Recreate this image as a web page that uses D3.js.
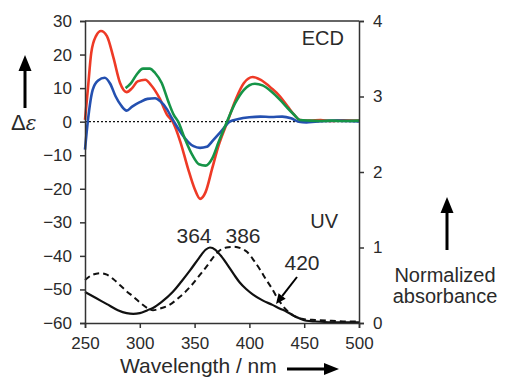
<!DOCTYPE html>
<html><head><meta charset="utf-8">
<script src="https://cdn.jsdelivr.net/npm/d3@7"></script>
<style>
html,body{margin:0;padding:0;background:#fff;}
svg{display:block;font-family:"Liberation Sans",Arial,Helvetica,sans-serif;}
</style></head>
<body>
<svg id="chart" width="506" height="378"></svg>
<script>
// ---- data ----
const xTicks = [250, 300, 350, 400, 450, 500];
const leftTicks = [30, 20, 10, 0, -10, -20, -30, -40, -50, -60];
const rightTicks = [0, 1, 2, 3, 4];

const redNm  = [250,252.7,255.7,260,264.6,270,276,282,288,293,298,305,310,318,325,330,337,344,350,355,360,366,372,380,388,395,403,410,420,428,435,441,446,455,465,475,485,500];
const redCD  = [0.5,10,20.5,25.5,27,25.5,19,11.5,8.8,10,12,12.5,11,7,2,0,-6,-14,-20,-23,-21,-14,-7,0,7,11.5,13.3,12.5,10,7.5,4.5,2,0.5,0.3,0.5,0.2,0.4,0.3];

const greenNm = [287,292,297,303,309,314,320,326,331,335,341,348,354,360,366,372,379.5,387,395,405,412,420,428,435,441,446,455,465,475,485,500];
const greenCD = [10,11.5,14,15.8,15.8,14.5,11.5,6,2,0,-5,-10,-12.7,-13.1,-11,-6,0,5.5,9.5,11.3,10.8,9,6.5,4,2,0.5,0.3,0.2,0.3,0.2,0.3];

const blueNm = [250,252.7,257,262,268,273,278,283,288,293,300,307,314,319,325,329,333,338,344,349,355,361,367,374,382,390,400,410,420,430,438,445,452,460,470,480,490,500];
const blueCD = [-8.3,0.5,9.5,12.3,13.1,11.3,7.5,4.8,3.3,4.5,5.8,6.8,7,6,3.6,1.2,-1,-3.5,-6,-7.3,-7.8,-7.5,-5.5,-3,0,0.8,1.3,1.5,1.4,1.5,1,0,-0.2,0,0.2,0.3,0.2,0.1];

const uvSolidNm = [250,260,270,280,288,294,300,307,312,320,330,338,346,354,360,364,369,374,380,386,391,397,403,412,421,428,434,440,446,452,460,475,490,500];
const uvSolid   = [0.41,0.33,0.25,0.17,0.13,0.12,0.13,0.17,0.2,0.28,0.41,0.55,0.70,0.86,0.97,1.0,0.97,0.89,0.77,0.64,0.54,0.45,0.38,0.30,0.24,0.19,0.15,0.1,0.06,0.03,0.02,0.01,0.01,0.01];

const uvDashNm = [250,257,264,270,276,282,288,294,301,308,312,318,327,336,346,355,361,366,372,379,386,392,398,404,410,415,420,426,432,438,444,450,460,475,490,500];
const uvDash   = [0.57,0.64,0.66,0.64,0.58,0.5,0.42,0.35,0.26,0.19,0.17,0.19,0.24,0.34,0.48,0.64,0.75,0.85,0.95,1.0,1.01,0.99,0.94,0.83,0.70,0.58,0.47,0.32,0.2,0.12,0.07,0.05,0.04,0.03,0.02,0.02];

const peakLabels = ["364", "386", "420"];

// ---- layout ----
const svg = d3.select("#chart");
const L = 85, R = 359, T = 21, B = 323;
const x = d3.scaleLinear().domain([250, 500]).range([L, R]);
const yL = d3.scaleLinear().domain([-60, 30]).range([B, T]);
const yR = d3.scaleLinear().domain([0, 4]).range([B, T]);
const axisCol = "#333";
const textCol = "#2a2a2a";

// zero line
svg.append("line").attr("x1", L).attr("x2", R).attr("y1", yL(0)).attr("y2", yL(0))
  .attr("stroke", "#111").attr("stroke-width", 1.3).attr("stroke-dasharray", "2,2");

const lineL = (nm, v) => d3.line().x((d, i) => x(nm[i])).y(d => yL(d)).curve(d3.curveMonotoneX)(v);
const lineR = (nm, v) => d3.line().x((d, i) => x(nm[i])).y(d => yR(d)).curve(d3.curveMonotoneX)(v);

// ECD curves
svg.append("path").attr("d", lineL(redNm, redCD)).attr("fill", "none").attr("stroke", "#ee3a26").attr("stroke-width", 2.6).attr("stroke-linejoin", "round");
svg.append("path").attr("d", lineL(blueNm, blueCD)).attr("fill", "none").attr("stroke", "#2450b0").attr("stroke-width", 2.6).attr("stroke-linejoin", "round");
svg.append("path").attr("d", lineL(greenNm, greenCD)).attr("fill", "none").attr("stroke", "#159447").attr("stroke-width", 2.6).attr("stroke-linejoin", "round");

// UV curves
svg.append("path").attr("d", lineR(uvDashNm, uvDash)).attr("fill", "none").attr("stroke", "#111").attr("stroke-width", 2).attr("stroke-dasharray", "6,4");
svg.append("path").attr("d", lineR(uvSolidNm, uvSolid)).attr("fill", "none").attr("stroke", "#111").attr("stroke-width", 2.2);

// axes
const axL = svg.append("g").attr("transform", `translate(${L},0)`)
  .call(d3.axisLeft(yL).tickValues(leftTicks).tickSize(5).tickPadding(8).tickFormat(d3.format("d")));
const axR = svg.append("g").attr("transform", `translate(${R},0)`)
  .call(d3.axisRight(yR).tickValues(rightTicks).tickSize(5).tickPadding(9).tickFormat(d3.format("d")));
const axB = svg.append("g").attr("transform", `translate(0,${B})`)
  .call(d3.axisBottom(x).tickValues(xTicks).tickSize(5).tickPadding(9).tickFormat(d3.format("d")));
[axL, axR, axB].forEach(g => {
  g.select(".domain").attr("stroke", axisCol).attr("stroke-width", 1.5);
  g.selectAll(".tick line").attr("stroke", axisCol).attr("stroke-width", 1.5);
  g.selectAll(".tick text").attr("fill", textCol).style("font-size", "17px")
    .style("font-family", '"Liberation Sans",Arial,sans-serif');
});
// top border
svg.append("line").attr("x1", L).attr("x2", R).attr("y1", T).attr("y2", T).attr("stroke", axisCol).attr("stroke-width", 1.5);

// text labels
const txt = (s, tx, ty, size, anchor) => svg.append("text").attr("x", tx).attr("y", ty)
  .attr("text-anchor", anchor || "start").attr("fill", textCol).style("font-size", size + "px").text(s);
txt("ECD", 344, 45, 20, "end");
txt("UV", 338, 228, 20, "end");
txt(peakLabels[0], 194, 243, 21, "middle");
txt(peakLabels[1], 243, 243, 21, "middle");
txt(peakLabels[2], 302, 270, 21, "middle");
txt("Normalized", 445, 282, 20, "middle");
txt("absorbance", 445, 303, 20, "middle");
txt("Wavelength / nm", 120, 373, 21, "start");

const de = svg.append("text").attr("x", 11).attr("y", 130).attr("fill", textCol).style("font-size", "22px");
de.append("tspan").text("Δ");
de.append("tspan").style("font-style", "italic").style("font-family", '"DejaVu Serif",serif').style("font-size", "20px").text("ε");

// arrows
function arrow(x1, y1, x2, y2, w, hl, hw) {
  const ang = Math.atan2(y2 - y1, x2 - x1);
  const bx = x2 - hl * Math.cos(ang), by = y2 - hl * Math.sin(ang);
  svg.append("line").attr("x1", x1).attr("y1", y1).attr("x2", bx).attr("y2", by)
    .attr("stroke", "#000").attr("stroke-width", w);
  const px = -Math.sin(ang) * hw / 2, py = Math.cos(ang) * hw / 2;
  svg.append("path").attr("d", `M${x2},${y2}L${bx + px},${by + py}L${bx - px},${by - py}Z`).attr("fill", "#000");
}
arrow(25, 108, 25, 55, 3, 16, 13);
arrow(447, 250, 447, 197, 3, 16, 13);
arrow(287, 369, 339, 369, 3, 15, 12);
arrow(297, 277, 276, 304, 2, 10, 9);
</script>
</body></html>
